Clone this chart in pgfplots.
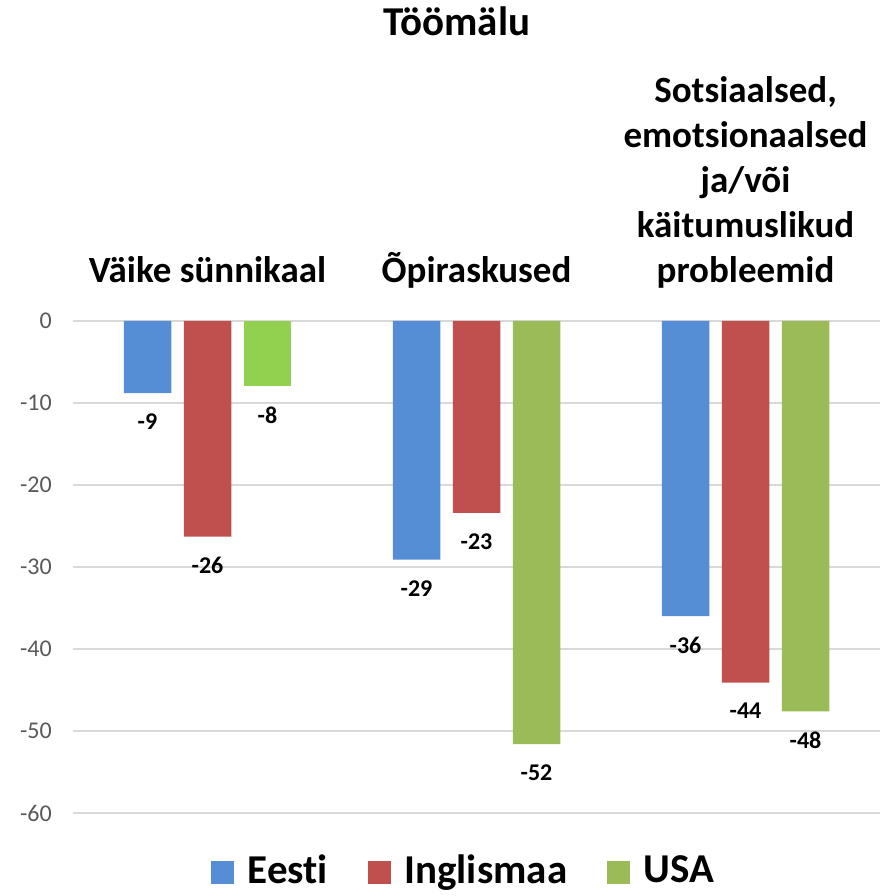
\documentclass[border=0pt]{standalone}
\usepackage{fontspec}
\setmainfont{Carlito}[Ligatures=NoCommon]
\usepackage{pgfplots}
\pgfplotsset{compat=1.18}
\definecolor{cBlue}{HTML}{558ED5}
\definecolor{cRed}{HTML}{C0504D}
\definecolor{cGreen}{HTML}{9BBB59}
\definecolor{cGreenB}{HTML}{92D050}
\definecolor{cGrid}{HTML}{D9D9D9}
\definecolor{cTick}{HTML}{595959}
\begin{document}
\begin{tikzpicture}
\useasboundingbox (-73pt,-83pt) rectangle (814pt,813pt);
\begin{axis}[
  scale only axis, width=807pt, height=492pt,
  ybar=12.5pt, bar width=47.5pt,
  xmin=-0.5, xmax=2.5, ymin=-60, ymax=0,
  xtick={0,1,2},
  xticklabels={{Väike sünnikaal\strut},{Õpiraskused\strut},{Sotsiaalsed,\\emotsionaalsed\\ja/või\\käitumuslikud\\probleemid\strut}},
  xticklabel pos=right,
  xticklabel style={anchor=south, inner sep=0pt, yshift=24.5pt, align=center, font=\fontsize{37}{45}\selectfont\bfseries},
  ytick={-60,-50,...,0},
  ymajorgrids, grid style={cGrid, line width=1.3pt},
  axis line style={draw=none}, major tick length=0pt,
  yticklabel style={anchor=east, inner sep=0pt, xshift=-21pt, font=\fontsize{24}{28}\selectfont, text=cTick},
  /pgf/number format/assume math mode=true,
  nodes near coords={\pgfmathprintnumber[fixed,precision=0]{\pgfplotspointmeta}},
  every node near coord/.append style={font=\fontsize{24}{28}\selectfont\bfseries, inner sep=0pt, anchor=north, yshift=-20.5pt, text=black},
  title={Töömälu},
  title style={at={(0.4758,1)}, anchor=base, yshift=279pt, inner sep=0pt, font=\fontsize{41}{49}\selectfont\bfseries},
  legend columns=3,
  legend style={at={(0.4827,-0.1159)}, anchor=center, draw=none, fill=none, inner sep=0pt,
    font=\fontsize{41}{49}\selectfont\bfseries, nodes={inner sep=0pt},
    /tikz/column sep=14pt, /tikz/every even column/.append style={column sep=39.5pt}},
  legend image code/.code={\fill[#1] (0pt,-14pt) rectangle (23pt,9pt);},
]
\addplot[fill=cBlue, draw=none, bar shift=-60pt] coordinates {(0,-8.8) (1,-29.1) (2,-36.0)};
\addlegendentry{Eesti}
\addplot[fill=cRed, draw=none, bar shift=0pt] coordinates {(0,-26.3) (1,-23.4) (2,-44.1)};
\addlegendentry{Inglismaa}
\addplot[fill=cGreen, draw=none, bar shift=60pt] coordinates {(1,-51.6) (2,-47.6)};
\addlegendentry{USA}
\addplot[fill=cGreenB, draw=none, bar shift=60pt, forget plot] coordinates {(0,-7.9)};
\end{axis}
\end{tikzpicture}
\end{document}
